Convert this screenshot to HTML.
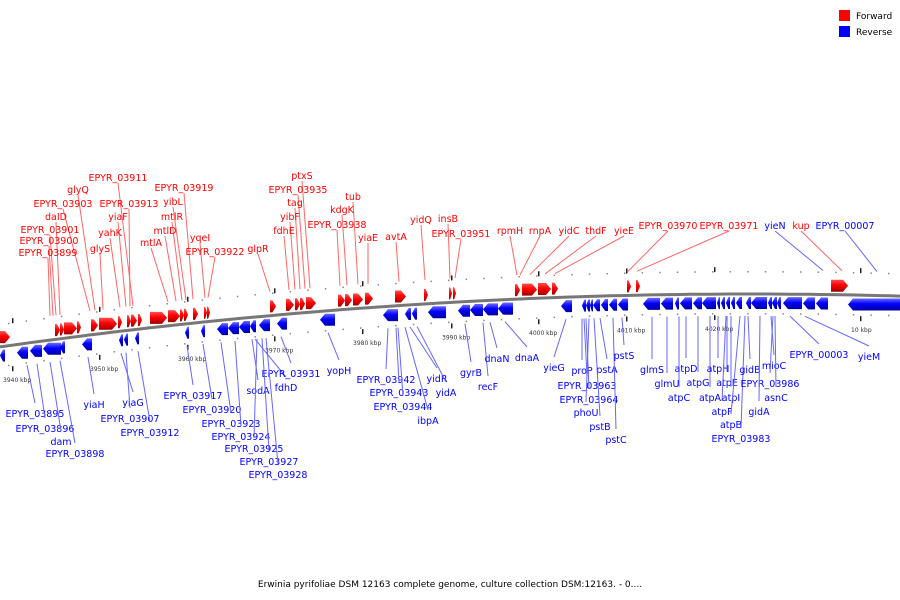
<!DOCTYPE html>
<html><head><meta charset="utf-8"><style>
body{margin:0;background:#fff;width:900px;height:600px;overflow:hidden}
svg{display:block;font-family:"DejaVu Sans","Liberation Sans",sans-serif}
</style></head><body>
<svg id="map" width="900" height="600">
<defs>
<linearGradient id="gf" x1="0" y1="0" x2="0" y2="1"><stop offset="0" stop-color="#ff5050"/><stop offset="0.45" stop-color="#ff0000"/><stop offset="1" stop-color="#a00000"/></linearGradient>
<linearGradient id="gr" x1="0" y1="0" x2="0" y2="1"><stop offset="0" stop-color="#6a6aff"/><stop offset="0.45" stop-color="#0000ff"/><stop offset="1" stop-color="#0000a0"/></linearGradient>
</defs>
<g>
<rect x="839" y="10" width="11" height="11" fill="#f00"/>
<text x="856" y="19" font-size="9">Forward</text>
<rect x="839" y="26" width="11" height="11" fill="#00f"/>
<text x="856" y="35" font-size="9">Reverse</text>
</g>
<text x="450" y="587" font-size="9" text-anchor="middle">Erwinia pyrifoliae DSM 12163 complete genome, culture collection DSM:12163. - 0....</text>
</svg>
<script>
const fwdStart=[0,55,60,64,77,91,99,118,127,131,138,150,168,180,184,193,204,207,270,286,295,300,306,338,345,353,365,395,424,449,453,515,522,538,552,627,636,831];
const fwdEnd=[10,60,64,77,81,98,117,122,131,137,142,167,180,184,188,198,207,210,276,294,300,305,316,345,352,363,373,406,428,452,456,520,537,551,558,631,640,848];
const revStart=[0,17,30,43,60,82,119,124,135,185,201,217,228,239,250,259,277,320,383,405,412,428,458,470,483,498,500,561,582,586,590,593,601,609,618,643,661,675,680,693,702,717,721,726,731,736,746,751,768,772,777,783,803,816,848];
const revEnd=[5,28,42,61,65,92,123,128,139,189,205,228,239,250,256,270,287,335,398,411,417,446,470,483,498,512,513,572,586,590,593,600,608,617,628,660,673,679,692,702,716,720,725,730,735,742,751,767,772,777,781,802,815,828,900];
const tickKbp=["3940 kbp","3950 kbp","3960 kbp","3970 kbp","3980 kbp","3990 kbp","4000 kbp","4010 kbp","4020 kbp","10 kbp"];
const tickX=[3,90,178,265,353,442,529,617,705,851];
const fLab=["EPYR_03911","glyQ","EPYR_03903","EPYR_03913","yiaF","yahK","glyS","daID","EPYR_03901","EPYR_03900","EPYR_03899","EPYR_03919","yibL","mtlR","mtlD","mtlA","yqeI","EPYR_03922","glpR","ptxS","EPYR_03935","tag","yibF","fdhE","tub","kdgK","EPYR_03938","yiaE","avtA","yidQ","insB","EPYR_03951","rpmH","rnpA","yidC","thdF","yieE","EPYR_03970","EPYR_03971","yieN","kup","EPYR_00007"];
const fLx=[118,78,63,129,118,110,100,56,50,49,48,184,173,172,165,151,200,215,258,302,298,295,290,284,353,342,337,368,396,421,448,461,510,540,569,596,624,668,729,775,801,845];
const fLy=[180,192,206,206,219,235,251,219,232,243,255,190,204,219,233,245,240,254,251,178,192,205,219,233,199,212,227,240,239,222,221,236,233,233,233,233,233,228,228,228,228,228];
const fAx=[133,95,90,130,126,120,103,60,56,53,50,193,186,182,176,168,205,208,270,310,305,300,295,289,358,347,340,368,399,425,450,455,517,520,530,545,555,628,637,823,842,877];
const fCol=["r","r","r","r","r","r","r","r","r","r","r","r","r","r","r","r","r","r","r","r","r","r","r","r","r","r","r","r","r","r","r","r","r","r","r","r","r","r","r","b","r","b"];
const rLab=["EPYR_03895","EPYR_03896","dam","EPYR_03898","yiaH","yiaG","EPYR_03907","EPYR_03912","EPYR_03917","EPYR_03920","EPYR_03923","EPYR_03924","sodA","fdhD","EPYR_03931","EPYR_03925","EPYR_03927","EPYR_03928","yopH","EPYR_03942","EPYR_03943","EPYR_03944","ibpA","yidR","yidA","gyrB","recF","dnaN","dnaA","yieG","proP","pstA","EPYR_03963","EPYR_03964","phoU","pstB","pstC","pstS","glmS","glmU","atpC","atpD","atpG","atpA","atpH","atpE","atpI","atpF","atpB","EPYR_03983","gidB","EPYR_03986","gidA","mioC","asnC","EPYR_00003","yieM"];
const rLx=[35,45,61,75,94,133,130,150,193,212,231,241,258,286,291,254,269,278,339,386,399,403,428,437,446,471,488,497,527,554,582,607,587,589,586,600,616,624,652,667,679,686,698,710,718,727,731,722,731,741,750,770,759,774,776,819,869];
const rLy=[413,428,441,453,404,402,418,432,395,409,423,436,390,387,373,448,461,474,370,379,392,406,420,378,392,372,386,358,357,367,370,369,385,399,412,426,439,355,369,383,397,368,382,397,368,382,397,411,424,438,369,383,411,365,397,354,356];
const rAx=[27,37,50,60,88,121,126,138,187,203,221,235,252,255,281,257,262,266,328,388,396,398,405,410,417,465,483,490,505,566,582,600,584,586,589,594,613,622,652,667,679,686,698,710,718,727,731,726,740,745,748,773,760,771,775,790,805];

const NS="http://www.w3.org/2000/svg";
const svg=document.getElementById('map');
function yc(x){return 294+9.4e-5*(x-750)*(x-750);}
function mk(tag,attrs,parent){const e=document.createElementNS(NS,tag);for(const k in attrs)e.setAttribute(k,attrs[k]);(parent||svg).appendChild(e);return e;}

let d="";for(let x=0;x<=900;x+=10)d+=(x?"L":"M")+x+","+yc(x).toFixed(1);
const bb=mk('path',{d:d,stroke:"#777",'stroke-width':3,fill:"none"});



for(let x=8;x<900;x+=17.6){
 const a=mk('rect',{x:x,y:yc(x)-23,width:1.5,height:1.5,fill:"#888"});
 
 
 const b=mk('rect',{x:x,y:yc(x)+19,width:1.5,height:1.5,fill:"#888"});
 
 
}
tickX.forEach((tx,i)=>{
 const mx=tx+9;
 const t1=mk('rect',{x:mx,y:yc(mx)-27,width:1.5,height:5,fill:"#222"});
 
 
 const t2=mk('rect',{x:mx,y:yc(mx)+21,width:1.5,height:5,fill:"#222"});
 
 
 const t=mk('text',{x:tx,y:yc(mx)+37,'font-size':6,fill:"#333"});t.textContent=tickKbp[i];
 
 
});

function gene(x1,x2,fwd){
 const h=12, tip=Math.min(5,(x2-x1)*0.6);
 const ym=yc((x1+x2)/2);
 const top=fwd?ym-3-h:ym+3, bot=top+h;
 let pts;
 if(fwd)pts=[[x1,top],[x2-tip,top],[x2,(top+bot)/2],[x2-tip,bot],[x1,bot]];
 else pts=[[x1+tip,top],[x2,top],[x2,bot],[x1+tip,bot],[x1,(top+bot)/2]];
 const p=mk('polygon',{points:pts.map(q=>q.join(',')).join(' '),fill:fwd?"url(#gf)":"url(#gr)"});
 
 
}
fwdStart.forEach((s,i)=>gene(s,fwdEnd[i],true));
revStart.forEach((s,i)=>gene(s,revEnd[i],false));

fLab.forEach((n,i)=>{
 const col=fCol[i]==="b"?"#00f":"#f00", lc=fCol[i]==="b"?"#66f":"#f66";
 const ln=mk('line',{x1:fLx[i],y1:fLy[i]+3,x2:fAx[i],y2:yc(fAx[i])-24,stroke:lc,'stroke-width':1});
 
 
 const t=mk('text',{x:fLx[i],y:fLy[i]+1,'font-size':9.5,'text-anchor':'middle',fill:col});t.textContent=n;
 
 
});
rLab.forEach((n,i)=>{
 const ln=mk('line',{x1:rAx[i],y1:yc(rAx[i])+22,x2:rLx[i],y2:rLy[i]-10,stroke:"#66f",'stroke-width':1});
 
 
 const t=mk('text',{x:rLx[i],y:rLy[i]+4,'font-size':9.5,'text-anchor':'middle',fill:"#00f"});t.textContent=n;
 
 
});
</script>
</body></html>
